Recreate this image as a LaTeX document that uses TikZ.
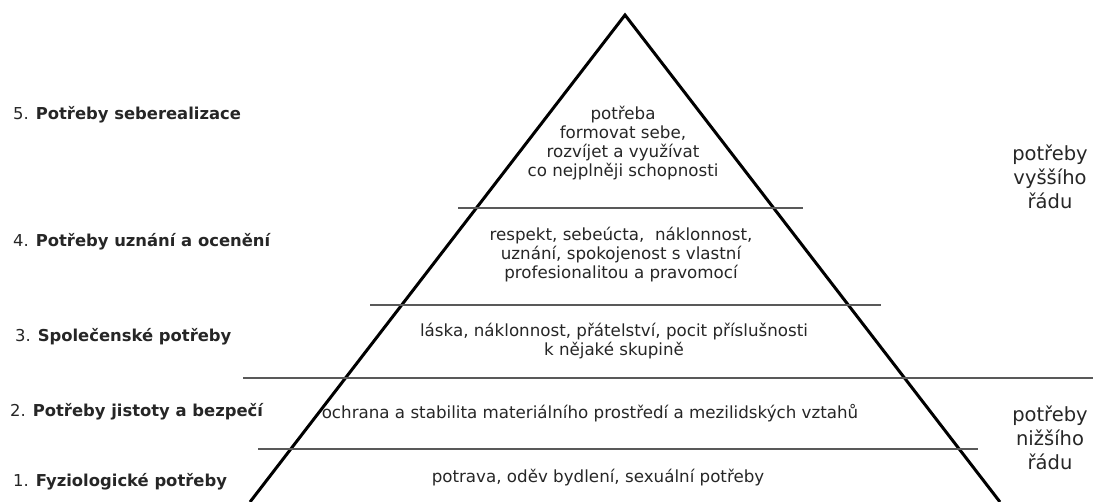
\documentclass[tikz,border=0pt]{standalone}
\usepackage{fontspec}
\setmainfont{DejaVu Sans}
\begin{document}
\begin{tikzpicture}[x=1pt,y=-1pt,
  inner/.style={font=\fontsize{16.7}{19}\selectfont, text=black!85, align=center, inner sep=0pt},
  side/.style={font=\fontsize{16.4}{18}\selectfont, text=black!85, anchor=west, inner sep=0pt},
  order/.style={font=\fontsize{19.5}{24}\selectfont, text=black!85, align=center, inner sep=0pt},
  level/.style={draw=black!65, line width=1.3pt},
  pyr/.style={draw=black, line width=3pt, line join=miter}]
\useasboundingbox (0,0) rectangle (1093,502);
% pyramid
\coordinate (bl) at (250,502);
\coordinate (apex) at (625,15);
\coordinate (br) at (1000,502);
\draw[pyr] (bl) -- (apex) -- (br);
% level lines
\coordinate (l5a) at (458,208); \coordinate (l5b) at (803,208);
\coordinate (l4a) at (370,305); \coordinate (l4b) at (881,305);
\coordinate (l3a) at (243,378); \coordinate (l3b) at (1093,378);
\coordinate (l2a) at (258,449); \coordinate (l2b) at (978,449);
\draw[level] (l5a) -- (l5b);
\draw[level] (l4a) -- (l4b);
\draw[level] (l3a) -- (l3b);
\draw[level] (l2a) -- (l2b);
% inner texts
\node[inner] (t5) at (623,143) {potřeba\\formovat sebe,\\rozvíjet a využívat\\co nejplněji schopnosti};
\node[inner] (t4) at (621,255) {respekt, sebeúcta,\ \ náklonnost,\\uznání, spokojenost s vlastní\\profesionalitou a pravomocí};
\node[inner] (t3) at (614,341) {láska, náklonnost, přátelství, pocit příslušnosti\\k nějaké skupině};
\node[inner] (t2) at (590,413) {ochrana a stabilita materiálního prostředí a mezilidských vztahů};
\node[inner] (t1) at (598,478) {potrava, oděv bydlení, sexuální potřeby};
% side labels
\node[side] (s5) at (13,115) {5. \textbf{Potřeby seberealizace}};
\node[side] (s4) at (13,242) {4. \textbf{Potřeby uznání a ocenění}};
\node[side] (s3) at (15,337) {3. \textbf{Společenské potřeby}};
\node[side] (s2) at (10,412) {2. \textbf{Potřeby jistoty a bezpečí}};
\node[side] (s1) at (13,482) {1. \textbf{Fyziologické potřeby}};
% order labels
\node[order] (hi) at (1050,177) {potřeby\\vyššího\\řádu};
\node[order] (lo) at (1050,438) {potřeby\\nižšího\\řádu};
\end{tikzpicture}
\end{document}
